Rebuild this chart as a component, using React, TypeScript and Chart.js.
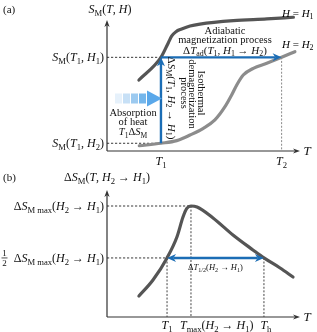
import { useEffect, useRef } from 'react';
import { Chart, registerables } from 'chart.js';
Chart.register(...registerables);

const FONT = '"Liberation Serif","DejaVu Serif",serif';

// ---------- panel (a) data ----------
const h1T = [16.8, 28.4, 32.3, 34.1, 36.3, 39.3, 43.7, 48.9, 66.5, 84.1, 98.1];
const h1S = [54.2, 71.5, 82.7, 87.8, 91.1, 93.1, 95.4, 96.9, 99.5, 100.8, 102.1];
const h2T = [17.0, 28.4, 36.7, 43.7, 50.7, 56.8, 62.1, 65.6, 68.3, 71.7, 77.0, 84.1, 91.9, 98.9];
const h2S = [4.0, 5.9, 7.9, 12.2, 17.3, 23.7, 33.8, 42.7, 50.4, 58.0, 63.1, 67.0, 71.5, 75.8];
const topTicksT = [28.4, 91.9]; // T1, T2
const topLevelsS = [71.5, 5.9]; // S_M(T1,H1), S_M(T1,H2)

// ---------- panel (b) data ----------
const dsT = [16.8, 24.2, 31.6, 36.8, 40.0, 42.0, 44.2, 47.4, 55.8, 66.3, 76.8, 82.6, 91.1, 97.9];
const dsS = [16.5, 29.1, 46.5, 63.0, 78.7, 85.5, 87.4, 86.6, 78.0, 64.6, 52.8, 46.5, 38.6, 31.5];
const botTicksT = [31.6, 44.2, 82.6]; // T1, Tmax, Th
const botLevelsS = [87.4, 46.5]; // max, half

type St = 'r' | 'i' | 's' | 'si';
type Seg = { t: string; st: St };
const r = (t: string): Seg => ({ t, st: 'r' });
const i = (t: string): Seg => ({ t, st: 'i' });
const s = (t: string): Seg => ({ t, st: 's' });

const topTickLabels: Seg[][] = [[i('T'), s('1')], [i('T'), s('2')]];
const topLevelLabels: Seg[][] = [
  [i('S'), s('M'), r('('), i('T'), s('1'), r(', '), i('H'), s('1'), r(')')],
  [i('S'), s('M'), r('('), i('T'), s('1'), r(', '), i('H'), s('2'), r(')')],
];
const botTickLabels: Seg[][] = [
  [i('T'), s('1')],
  [i('T'), s('max'), r('('), i('H'), s('2'), r(' \u2192 '), i('H'), s('1'), r(')')],
  [i('T'), s('h')],
];
const botLevelLabels: Seg[][] = [
  [r('\u0394'), i('S'), s('M max'), r('('), i('H'), s('2'), r(' \u2192 '), i('H'), s('1'), r(')')],
  [r('\u0394'), i('S'), s('M max'), r('('), i('H'), s('2'), r(' \u2192 '), i('H'), s('1'), r(')')],
];

function fontFor(st: St, size: number) {
  const sub = st === 's' || st === 'si';
  const sz = sub ? size * 0.72 : size;
  const style = st === 'i' || st === 'si' ? 'italic ' : '';
  return `${style}${sz}px ${FONT}`;
}

function drawRich(ctx: CanvasRenderingContext2D, segs: Seg[], x: number, y: number, size: number, align: 'left' | 'center' | 'right' = 'left', color = '#111') {
  ctx.save();
  ctx.textBaseline = 'alphabetic';
  ctx.textAlign = 'left';
  ctx.fillStyle = color;
  let w = 0;
  const ws = segs.map((sg) => {
    ctx.font = fontFor(sg.st, size);
    const m = ctx.measureText(sg.t).width;
    w += m;
    return m;
  });
  let cx = align === 'left' ? x : align === 'center' ? x - w / 2 : x - w;
  const base = y + size * 0.33;
  segs.forEach((sg, k) => {
    ctx.font = fontFor(sg.st, size);
    const sub = sg.st === 's' || sg.st === 'si';
    ctx.fillText(sg.t, cx, base + (sub ? size * 0.25 : 0));
    cx += ws[k];
  });
  ctx.restore();
}

function drawRichRot(ctx: CanvasRenderingContext2D, segs: Seg[], x: number, y: number, size: number) {
  ctx.save();
  ctx.translate(x, y);
  ctx.rotate(Math.PI / 2);
  drawRich(ctx, segs, 0, 0, size, 'center');
  ctx.restore();
}

function head(ctx: CanvasRenderingContext2D, x: number, y: number, ang: number, len: number, hw: number, color: string) {
  ctx.save();
  ctx.translate(x, y);
  ctx.rotate(ang);
  ctx.fillStyle = color;
  ctx.beginPath();
  ctx.moveTo(0, 0);
  ctx.lineTo(-len, -hw);
  ctx.lineTo(-len * 0.7, 0);
  ctx.lineTo(-len, hw);
  ctx.closePath();
  ctx.fill();
  ctx.restore();
}

function arrow(ctx: CanvasRenderingContext2D, x1: number, y1: number, x2: number, y2: number, color: string, lw: number, len: number, hw: number, both = false) {
  const ang = Math.atan2(y2 - y1, x2 - x1);
  const dx = Math.cos(ang), dy = Math.sin(ang);
  ctx.save();
  ctx.strokeStyle = color;
  ctx.lineWidth = lw;
  ctx.beginPath();
  const sx = both ? x1 + dx * len * 0.7 : x1;
  const sy = both ? y1 + dy * len * 0.7 : y1;
  ctx.moveTo(sx, sy);
  ctx.lineTo(x2 - dx * len * 0.7, y2 - dy * len * 0.7);
  ctx.stroke();
  ctx.restore();
  head(ctx, x2, y2, ang, len, hw, color);
  if (both) head(ctx, x1, y1, ang + Math.PI, len, hw, color);
}

function dashed(ctx: CanvasRenderingContext2D, x1: number, y1: number, x2: number, y2: number, color = '#222', dash = [2.2, 1.8], lw = 0.9) {
  ctx.save();
  ctx.strokeStyle = color;
  ctx.lineWidth = lw;
  ctx.setLineDash(dash);
  ctx.beginPath();
  ctx.moveTo(x1, y1);
  ctx.lineTo(x2, y2);
  ctx.stroke();
  ctx.restore();
}

function axes(ctx: CanvasRenderingContext2D, a: { left: number; right: number; top: number; bottom: number }) {
  ctx.save();
  ctx.strokeStyle = '#333';
  ctx.lineWidth = 1.2;
  ctx.beginPath();
  ctx.moveTo(a.left, a.bottom);
  ctx.lineTo(a.left, a.top + 4);
  ctx.moveTo(a.left, a.bottom);
  ctx.lineTo(a.right - 1, a.bottom);
  ctx.stroke();
  ctx.restore();
  head(ctx, a.left, a.top, -Math.PI / 2, 7, 2.6, '#333');
  head(ctx, a.right + 3, a.bottom, 0, 7, 2.6, '#333');
}

const BLUE = '#1b6db5';
const LBL = 12;

const topPlugin = {
  id: 'topAnn',
  beforeDatasetsDraw(chart: any) {
    const { ctx, chartArea: a, scales } = chart;
    const x = scales.x, y = scales.y;
    axes(ctx, a);
    const xT1 = x.getPixelForValue(topTicksT[0]);
    const xT2 = x.getPixelForValue(topTicksT[1]);
    const yS1 = y.getPixelForValue(topLevelsS[0]);
    const yS2 = y.getPixelForValue(topLevelsS[1]);
    dashed(ctx, a.left, yS1, xT1, yS1);
    dashed(ctx, a.left, yS2, xT1, yS2);
    dashed(ctx, xT2, yS1, xT2, a.bottom, '#888', [2, 1.6], 1);
  },
  afterDatasetsDraw(chart: any) {
    const { ctx, chartArea: a, scales } = chart;
    const x = scales.x, y = scales.y;
    const xT1 = x.getPixelForValue(topTicksT[0]);
    const xT2 = x.getPixelForValue(topTicksT[1]);
    const yS1 = y.getPixelForValue(topLevelsS[0]);
    const yS2 = y.getPixelForValue(topLevelsS[1]);
    arrow(ctx, xT1, yS2, xT1, yS1, BLUE, 2.4, 9, 4);
    arrow(ctx, xT1, yS1, xT2, yS1, BLUE, 2.4, 9, 4);

    // light blue heat-absorption arrow
    const ay = (a.top + a.bottom) / 2 + 13;
    const ax = a.left + 8;
    const cols = ['#e6f1fb', '#c7e0f6', '#9ccaf0', '#74b6eb'];
    cols.forEach((c, k) => {
      ctx.fillStyle = c;
      ctx.fillRect(ax + k * 8, ay - 5, 7, 10);
    });
    ctx.fillStyle = '#5aa8ea';
    ctx.beginPath();
    ctx.moveTo(ax + 32, ay - 8);
    ctx.lineTo(ax + 47, ay);
    ctx.lineTo(ax + 32, ay + 8);
    ctx.closePath();
    ctx.fill();

    // labels
    drawRich(ctx, [r('(a)')], 3, 9, 11, 'left');
    drawRich(ctx, [i('S'), s('M'), r('('), i('T'), r(', '), i('H'), r(')')], a.left + 3, 9, 12, 'center');
    drawRich(ctx, topLevelLabels[0], a.left - 3, yS1, LBL, 'right');
    drawRich(ctx, topLevelLabels[1], a.left - 3, yS2, LBL, 'right');
    drawRich(ctx, topTickLabels[0], xT1, a.bottom + 10, 12, 'center');
    drawRich(ctx, topTickLabels[1], xT2, a.bottom + 10, 12, 'center');
    drawRich(ctx, [i('T')], a.right + 10, a.bottom, 13, 'center');
    drawRich(ctx, [i('H'), r(' = '), i('H'), s('1')], 282, 13, 11, 'left', '#000');
    drawRich(ctx, [i('H'), r(' = '), i('H'), s('2')], 282, 44, 11, 'left', '#000');

    const cx = 225;
    drawRich(ctx, [r('Adiabatic')], cx, 31, 10.5, 'center');
    drawRich(ctx, [r('magnetization process')], cx, 40, 10.5, 'center');
    drawRich(ctx, [r('\u0394'), i('T'), s('ad'), r('('), i('T'), s('1'), r(', '), i('H'), s('1'), r(' \u2192 '), i('H'), s('2'), r(')')], cx, 50, 11, 'center');

    drawRichRot(ctx, [r('\u0394'), i('S'), s('M'), r('('), i('T'), s('1'), r(', '), i('H'), s('2'), r(' \u2192 '), i('H'), s('1'), r(')')], xT1 + 11, 98, 11);
    drawRichRot(ctx, [r('Isothermal')], 201, 93, 10.5);
    drawRichRot(ctx, [r('demagnetization')], 192.5, 94, 10.5);
    drawRichRot(ctx, [r('process')], 184, 93, 10.5);

    drawRich(ctx, [r('Absorption')], 133, 113, 10.5, 'center');
    drawRich(ctx, [r('of heat')], 133, 122, 10.5, 'center');
    drawRich(ctx, [i('T'), s('1'), r('\u0394'), i('S'), s('M')], 133, 132, 10.5, 'center');
  },
};

const botPlugin = {
  id: 'botAnn',
  beforeDatasetsDraw(chart: any) {
    const { ctx, chartArea: a, scales } = chart;
    const x = scales.x, y = scales.y;
    axes(ctx, a);
    const yMax = y.getPixelForValue(botLevelsS[0]);
    const yHalf = y.getPixelForValue(botLevelsS[1]);
    const x1 = x.getPixelForValue(botTicksT[0]);
    const xm = x.getPixelForValue(botTicksT[1]);
    const xh = x.getPixelForValue(botTicksT[2]);
    dashed(ctx, a.left, yMax, xm, yMax);
    dashed(ctx, a.left, yHalf, x1, yHalf);
    dashed(ctx, xm, yMax, xm, a.bottom, '#444', [2, 1.6], 1);
    dashed(ctx, x1, yHalf, x1, a.bottom, '#444', [2, 1.6], 1);
    dashed(ctx, xh, yHalf, xh, a.bottom, '#444', [2, 1.6], 1);
  },
  afterDatasetsDraw(chart: any) {
    const { ctx, chartArea: a, scales } = chart;
    const x = scales.x, y = scales.y;
    const yMax = y.getPixelForValue(botLevelsS[0]);
    const yHalf = y.getPixelForValue(botLevelsS[1]);
    const x1 = x.getPixelForValue(botTicksT[0]);
    const xm = x.getPixelForValue(botTicksT[1]);
    const xh = x.getPixelForValue(botTicksT[2]);
    arrow(ctx, x1, yHalf, xh, yHalf, BLUE, 2.4, 9, 4, true);
    drawRich(ctx, [r('\u0394'), i('T'), s('1/2'), r('('), i('H'), s('2'), r(' \u2192 '), i('H'), s('1'), r(')')], (x1 + xh) / 2, yHalf + 9, 8.5, 'center');

    drawRich(ctx, [r('(b)')], 3, 12, 11, 'left');
    drawRich(ctx, [r('\u0394'), i('S'), s('M'), r('('), i('T'), r(', '), i('H'), s('2'), r(' \u2192 '), i('H'), s('1'), r(')')], a.left, 12, 12, 'center');
    drawRich(ctx, botLevelLabels[0], a.left - 3, yMax, LBL, 'right');
    drawRich(ctx, botLevelLabels[1], a.left - 3, yHalf, LBL, 'right');
    // fraction 1/2
    drawRich(ctx, [r('1')], 4.5, yHalf - 5, 9, 'center');
    drawRich(ctx, [r('2')], 4.5, yHalf + 5, 9, 'center');
    ctx.save();
    ctx.strokeStyle = '#222';
    ctx.lineWidth = 0.8;
    ctx.beginPath();
    ctx.moveTo(1.5, yHalf);
    ctx.lineTo(7.5, yHalf);
    ctx.stroke();
    ctx.restore();

    drawRich(ctx, botTickLabels[0], x1, a.bottom + 8, 12, 'center');
    drawRich(ctx, botTickLabels[1], xm - 11, a.bottom + 8, 12, 'left');
    drawRich(ctx, botTickLabels[2], xh + 2, a.bottom + 8, 12, 'center');
    drawRich(ctx, [i('T')], a.right + 10, a.bottom, 13, 'center');
  },
};

function lineDs(xs: number[], ys: number[], color: string) {
  return {
    data: xs.map((v, k) => ({ x: v, y: ys[k] })),
    borderColor: color,
    borderWidth: 3.2,
    pointRadius: 0,
    borderCapStyle: 'round',
    cubicInterpolationMode: 'monotone',
    tension: 0.4,
    clip: false,
  } as any;
}

function baseOptions(padding: any) {
  return {
    animation: false,
    responsive: false,
    maintainAspectRatio: false,
    layout: { padding },
    scales: {
      x: { type: 'linear', min: 0, max: 100, display: false },
      y: { type: 'linear', min: 0, max: 100, display: false },
    },
    plugins: { legend: { display: false }, tooltip: { enabled: false } },
  } as any;
}

export default function App() {
  const topRef = useRef<HTMLCanvasElement>(null);
  const botRef = useRef<HTMLCanvasElement>(null);
  useEffect(() => {
    const c1 = new Chart(topRef.current!, {
      type: 'line',
      data: { datasets: [lineDs(h1T, h1S, '#555555'), lineDs(h2T, h2S, '#8c8c8c')] },
      options: baseOptions({ left: 107, right: 20, top: 20, bottom: 24 }),
      plugins: [topPlugin],
    } as any);
    const c2 = new Chart(botRef.current!, {
      type: 'line',
      data: { datasets: [lineDs(dsT, dsS, '#555555')] },
      options: baseOptions({ left: 107, right: 20, top: 25, bottom: 15 }),
      plugins: [botPlugin],
    } as any);
    return () => {
      c1.destroy();
      c2.destroy();
    };
  }, []);
  return (
    <div style={{ position: 'fixed', left: 0, top: 0, width: 317, height: 332, background: '#fff' }}>
      <canvas ref={topRef} width={317} height={175} style={{ position: 'absolute', left: 0, top: 0, width: 317, height: 175 }} />
      <canvas ref={botRef} width={317} height={167} style={{ position: 'absolute', left: 0, top: 165, width: 317, height: 167 }} />
    </div>
  );
}
